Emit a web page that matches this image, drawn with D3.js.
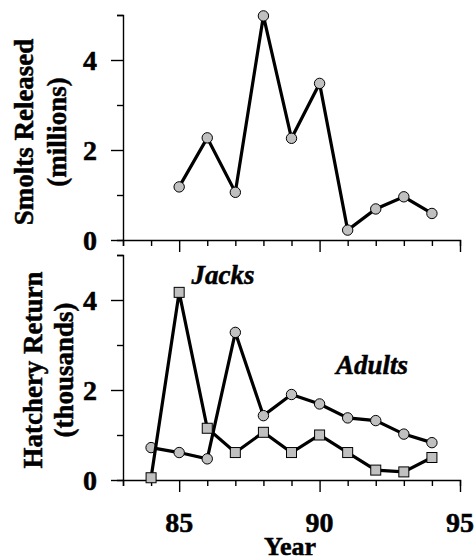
<!DOCTYPE html>
<html>
<head>
<meta charset="utf-8">
<script src="https://cdn.jsdelivr.net/npm/d3@7"></script>
<style>
  body { margin: 0; background: #fff; }
  text { font-family: "Liberation Serif", "Times New Roman", serif; font-weight: bold;
         stroke: #000; stroke-width: 0.5px; }
</style>
</head>
<body>
<svg id="chart" width="476" height="560"></svg>
<script>
// values
const smoltYears = [85, 86, 87, 88, 89, 90, 91, 92, 93, 94]
const smolts = [1.18, 2.27, 1.06, 4.98, 2.26, 3.48, 0.22, 0.69, 0.96, 0.59]

const returnYears = [84, 85, 86, 87, 88, 89, 90, 91, 92, 93, 94]
const adults = [0.72, 0.61, 0.47, 3.28, 1.43, 1.90, 1.69, 1.38, 1.32, 1.02, 0.83]
const jacks = [0.05, 4.17, 1.15, 0.61, 1.06, 0.61, 1.00, 0.61, 0.22, 0.18, 0.50]

const yearTicks = d3.range(83, 96)
const yearLabels = [85, 90, 95]
const valueTicks = [0, 1, 2, 3, 4, 5]
const valueLabels = [0, 2, 4]

const svg = d3.select("#chart")

const x = d3.scaleLinear().domain([83, 95]).range([123, 460])
const yTop = d3.scaleLinear().domain([0, 5]).range([240, 15])
const yBot = d3.scaleLinear().domain([0, 5]).range([480, 255])

function drawAxes(y, showYears){
    const g = svg.append("g")

    g.append("g")
        .attr("transform", `translate(0, ${y(0)})`)
        .call(d3.axisBottom(x).tickValues(yearTicks).tickSizeOuter(0)
            .tickSize(6).tickFormat(""))
        .call(a => a.selectAll(".tick line")
            .attr("y2", d => yearLabels.includes(d) ? 12 : 6))

    g.append("g")
        .attr("transform", `translate(${x(83)}, 0)`)
        .call(d3.axisLeft(y).tickValues(valueTicks).tickSizeOuter(0)
            .tickSize(6).tickFormat(""))
        .call(a => a.selectAll(".tick line")
            .attr("x2", d => valueLabels.includes(d) ? -12 : -6))

    g.selectAll("path.domain").attr("stroke", "#000").attr("stroke-width", 1.4)
    g.selectAll(".tick line").attr("stroke", "#000").attr("stroke-width", 1.4)

    g.selectAll(".vlab")
        .data(valueLabels)
        .enter()
        .append("text")
            .attr("x", 97)
            .attr("y", d => y(d) + 10)
            .attr("text-anchor", "end")
            .attr("font-size", 28)
            .text(d => d)

    if (showYears){
        g.selectAll(".xlab")
            .data(yearLabels)
            .enter()
            .append("text")
                .attr("x", d => x(d))
                .attr("y", 532)
                .attr("text-anchor", "middle")
                .attr("font-size", 28)
                .text(d => d)
    }
}

function yTitle(lines, cx, cy){
    lines.forEach((t, i) => {
        svg.append("text")
            .attr("transform", `translate(${cx[i]}, ${cy}) rotate(-90)`)
            .attr("text-anchor", "middle")
            .attr("font-size", 27)
            .text(t)
    })
}

function drawSeries(years, vals, y, shape){
    const line = d3.line()
        .x((d, i) => x(years[i]))
        .y(d => y(d))

    svg.append("path")
        .datum(vals)
        .attr("d", line)
        .attr("fill", "none")
        .attr("stroke", "#000")
        .attr("stroke-width", 3.2)

    if (shape == "circle"){
        svg.selectAll(null)
            .data(vals)
            .enter()
            .append("circle")
                .attr("cx", (d, i) => x(years[i]))
                .attr("cy", d => y(d))
                .attr("r", 5.2)
                .style("fill", "#c0c0c0")
                .style("stroke", "#000")
                .style("stroke-width", 1)
    } else {
        svg.selectAll(null)
            .data(vals)
            .enter()
            .append("rect")
                .attr("x", (d, i) => x(years[i]) - 5)
                .attr("y", d => y(d) - 5)
                .attr("width", 10)
                .attr("height", 10)
                .style("fill", "#c0c0c0")
                .style("stroke", "#000")
                .style("stroke-width", 1)
    }
}

drawAxes(yTop, false)
drawAxes(yBot, true)

yTitle(["Smolts Released", "(millions)"], [33, 66], 132)
yTitle(["Hatchery Return", "(thousands)"], [42, 73], 370)

drawSeries(smoltYears, smolts, yTop, "circle")
drawSeries(returnYears, adults, yBot, "circle")
drawSeries(returnYears, jacks, yBot, "rect")

svg.append("text")
    .attr("x", 223)
    .attr("y", 284)
    .attr("text-anchor", "middle")
    .attr("font-size", 27)
    .attr("font-style", "italic")
    .text("Jacks")

svg.append("text")
    .attr("x", 372)
    .attr("y", 374)
    .attr("text-anchor", "middle")
    .attr("font-size", 27)
    .attr("font-style", "italic")
    .text("Adults")

svg.append("text")
    .attr("x", 290)
    .attr("y", 555)
    .attr("text-anchor", "middle")
    .attr("font-size", 26)
    .text("Year")
</script>
</body>
</html>
